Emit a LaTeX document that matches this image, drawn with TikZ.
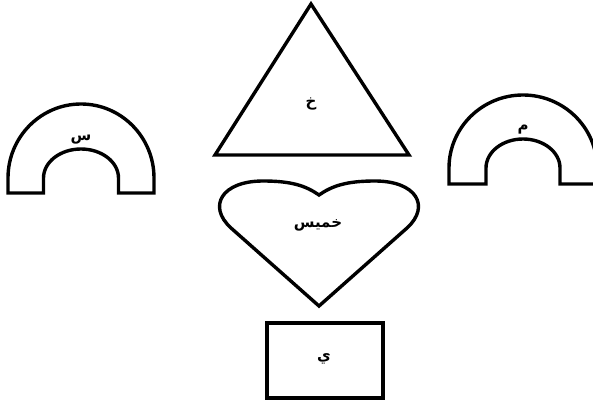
\documentclass[tikz,border=0pt]{standalone}
\usepackage{fontspec}
\TeXXeTstate=1
\newfontfamily\arabicfont[Script=Arabic]{DejaVu Sans}
\begin{document}
\begin{tikzpicture}[x=1pt,y=-1pt,
  shapeline/.style={draw=black,line width=3.4pt,line join=miter},
  lbl/.style={font=\arabicfont\bfseries\fontsize{15}{17}\selectfont,inner sep=0pt}]
\useasboundingbox (0,0) rectangle (593,403);
\clip (0,0) rectangle (593,403);
% left arch
\draw[shapeline] (8,193) -- (8,178) arc[start angle=180,end angle=0,x radius=73pt,y radius=74pt]
  -- (154,193) -- (118.5,193) -- (118.5,178)
  arc[start angle=0,end angle=180,x radius=37.5pt,y radius=29pt] -- (43.5,193) -- cycle;
% right arch
\draw[shapeline] (449,184) -- (449,168) arc[start angle=180,end angle=0,x radius=74pt,y radius=73pt]
  -- (597,184) -- (560,184) -- (560,168)
  arc[start angle=0,end angle=180,x radius=37pt,y radius=29pt] -- (486,184) -- cycle;
% triangle
\draw[shapeline] (311,4) -- (409,155) -- (215,155) -- cycle;
% heart
\draw[shapeline] (319,306) -- (231,228) .. controls (207,206) and (222,181) .. (263,181)
  .. controls (292,181) and (306,186) .. (319,195)
  .. controls (332,186) and (346,181) .. (375,181)
  .. controls (416,181) and (431,206) .. (407,228) -- cycle;
% rectangle
\draw[shapeline] (267,323) rectangle (383,398);
% labels
\node[lbl] (s) at (81,140) {\beginR س\endR};
\node[lbl] (m) at (523,130) {\beginR م\endR};
\node[lbl] (kh) at (311,104) {\beginR خ\endR};
\node[lbl] (khamis) at (318,225) {\beginR خميس\endR};
\node[lbl] (y) at (324,359) {\beginR ي\endR};
\end{tikzpicture}
\end{document}
